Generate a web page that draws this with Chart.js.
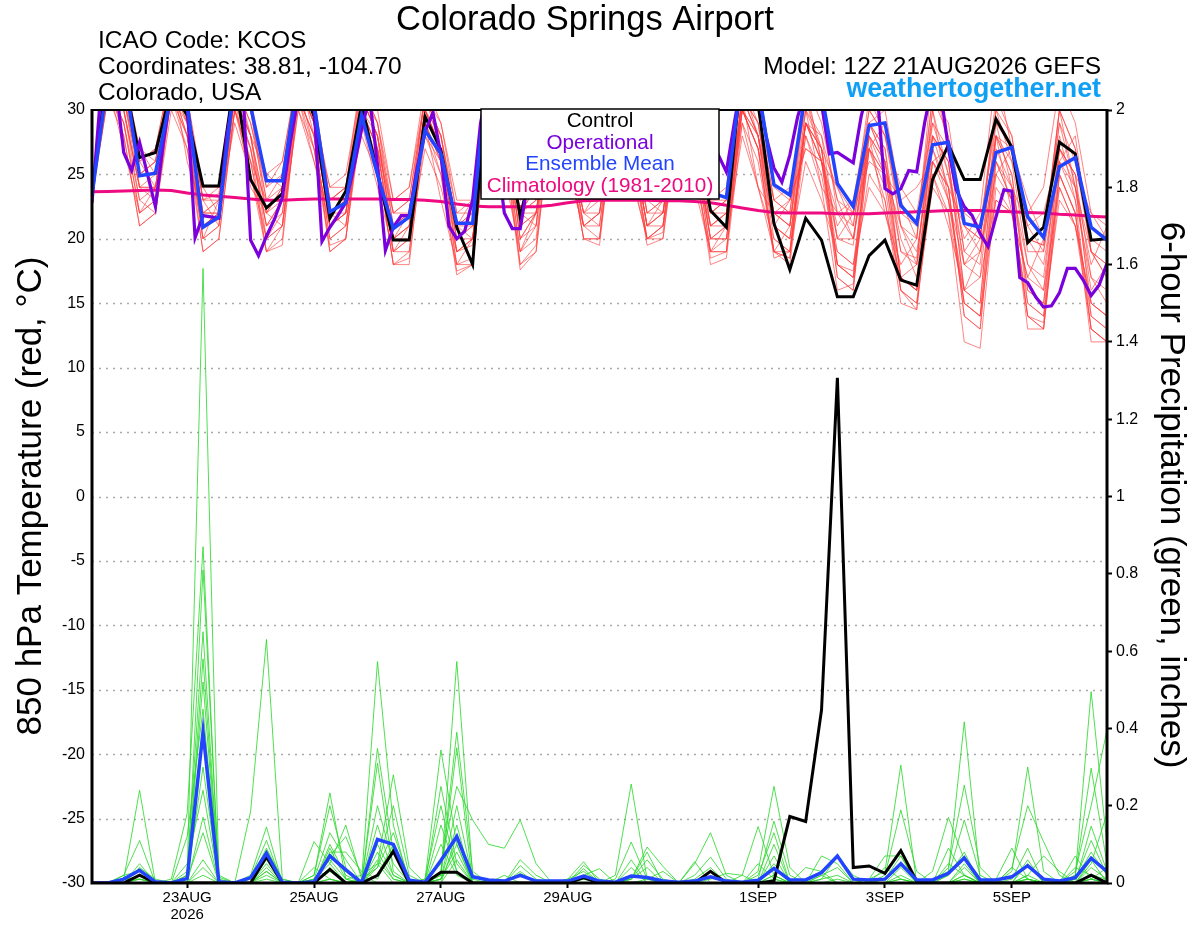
<!DOCTYPE html>
<html>
<head>
<meta charset="utf-8">
<title>Colorado Springs Airport - GEFS</title>
<script src="https://cdn.jsdelivr.net/npm/chart.js@4/dist/chart.umd.min.js"></script>
<style>
  html, body { margin: 0; padding: 0; background: #fff; }
  canvas { display: block; }
</style>
</head>
<body>
<canvas id="gefs" width="1200" height="927"></canvas>
<script>
// forecast hours from 12Z 21AUG2026, members every 6h, operational every 3h
const tickHours  = [36, 84, 132, 180, 252, 300, 348];
const tickLabels = ['23AUG', '25AUG', '27AUG', '29AUG', '1SEP', '3SEP', '5SEP'];
const tickYear   = '2026';

// 850 hPa temperature (C)
const tempControl = [
  23.6, 33.2, 32.7, 26.3, 26.7, 31.6, 29.6, 24.1,
  24.1, 32.5, 24.6, 22.4, 23.5, 32.8, 29.5, 21.6,
  23.7, 30.4, 25.1, 19.9, 19.9, 29.5, 26.9, 20.9,
  18.0, 34.0, 29.0, 21.7, 27.0, 33.0, 31.0, 25.5,
  25.0, 33.0, 30.0, 25.0, 25.5, 33.0, 29.0, 22.2,
  20.9, 34.0, 30.5, 21.2, 17.6, 21.6, 19.9, 15.5,
  15.5, 18.7, 19.9, 16.8, 16.4, 24.6, 27.3, 24.6,
  24.6, 29.3, 27.1, 19.7, 20.9, 27.5, 26.6, 19.9,
  20.0];

const tempMean = [
  23.4, 32.5, 33.0, 24.9, 25.1, 31.3, 30.5, 20.9,
  21.7, 32.5, 30.3, 24.5, 24.5, 32.5, 30.5, 22.1,
  22.8, 29.6, 25.0, 20.8, 21.7, 28.4, 26.6, 21.2,
  21.2, 34.0, 29.0, 24.5, 25.0, 31.5, 30.0, 25.0,
  25.5, 31.5, 29.5, 25.0, 25.0, 31.0, 29.0, 23.6,
  23.2, 33.0, 31.8, 24.2, 23.4, 31.5, 31.3, 24.3,
  22.5, 28.8, 29.0, 22.6, 21.2, 27.3, 27.5, 21.2,
  20.9, 26.7, 27.1, 21.7, 20.1, 25.6, 26.3, 20.9,
  19.9];

const tempClim = [
  23.65, 23.68, 23.72, 23.76, 23.8, 23.75, 23.55, 23.4,
  23.3, 23.2, 23.1, 23.0, 23.0, 23.05, 23.1, 23.1,
  23.1, 23.1, 23.1, 23.05, 23.05, 23.0, 22.9, 22.7,
  22.55, 22.5, 22.5, 22.5, 22.5, 22.6, 22.8, 22.95,
  23.0, 23.0, 23.0, 23.0, 22.95, 22.95, 22.9, 22.8,
  22.6, 22.4, 22.2, 22.05, 22.0, 22.0, 22.0, 21.95,
  21.95, 21.95, 22.0, 22.05, 22.1, 22.15, 22.2, 22.2,
  22.2, 22.15, 22.1, 22.05, 22.0, 21.9, 21.85, 21.75,
  21.7];

// operational run, 3-hourly
const tempOper = [
  22.8, 30.5, 33.5, 32.0, 26.7, 25.3, 27.5, 25.0,
  22.5, 27.5, 31.5, 33.0, 30.5, 20.1, 21.8, 21.7,
  21.6, 28.0, 31.5, 32.0, 19.9, 18.7, 20.2, 21.5,
  23.2, 27.5, 31.0, 32.5, 30.3, 19.8, 20.9, 21.8,
  22.8, 25.5, 28.5, 31.0, 25.8, 19.1, 20.9, 21.8,
  21.8, 25.5, 28.3, 29.8, 26.5, 21.0, 20.0, 20.6,
  23.0, 29.0, 32.0, 27.0, 22.0, 20.8, 20.8, 24.5,
  30.0, 33.0, 33.0, 31.0, 28.0, 26.0, 25.0, 25.0,
  27.0, 31.0, 33.0, 33.0, 31.0, 28.0, 26.0, 25.0,
  25.5, 28.0, 31.0, 33.0, 32.0, 30.0, 28.0, 26.5,
  25.2, 29.0, 32.5, 33.0, 31.5, 28.0, 25.5, 24.4,
  26.5, 29.5, 31.5, 32.5, 30.5, 26.6, 26.7, 26.3,
  25.9, 29.5, 32.0, 31.5, 23.9, 23.5, 23.9, 25.3,
  25.2, 29.0, 32.0, 31.5, 27.0, 23.8, 22.5, 21.8,
  20.4, 19.4, 21.7, 23.8, 23.7, 17.0, 16.6, 15.5,
  14.7, 14.8, 15.8, 17.7, 17.7, 16.8, 15.6, 16.4,
  18.1];

// ensemble members, temperature
const tempMembers = [
  [23.4, 33,31,25,26, 32,29,22,23, 31,27,21,23, 32,29,21,22, 30,27,19,20, 29,26,19,19.5, 31,29,20,22, 31,28,22,23,
         31,28,21,22, 31,27,20,21, 30,28,21,20, 29,26,19,18, 27,25,17,16, 26,23,15,14, 27,24,16,15, 25,22,14,13],
  [23.6, 34,32,26,27, 33,31,23,23.5, 32,29,24,25, 33,31,23,24, 31,28,22,23, 31,28,21,22, 33,31,22,24, 32,30,24,24.5,
         33,30,23,24, 32,30,22,23, 32,30,23,22, 31,27,24,21, 29,30,23,20, 33,27,19,21, 30,26,22,24, 32,29,22,21],
  [23.2, 32,30,23,24, 31,28,20,21, 30,26,19,20, 31,28,20,21, 29,26,18,18.5, 28,25,17.2,18, 30,28,18,19.5, 30,27,20,20,
         30,27,20,20.5, 30,26,18,18.5, 29,26,19,18, 28,24,16,16.5, 27,23,15,14.5, 25,22,12,11.5, 24,22,14,13, 24,21,13,12],
  [23.7, 33,32,27,26, 33,30,23,24, 32,30,25,26, 33,30,24,25, 32,29,23,24, 31,29,23,23, 32,30,23,24, 32,29,24,25,
         32,29,24,25, 32,29,23,24, 33,30,24,23, 32,29,23,22, 31,28,22,21, 31,29,21,20, 30,28,20,19.5, 30,27,19,18],
  [23.5, 31,29,22,23, 32,28,21,21.5, 31,26,20,21, 30,27,19,20, 30,27,19,19, 29,26,18,18.5, 31,28,19,20, 31,28,21,21,
         31,28,20,21, 31,27,19,19, 31,28,20,19, 30,27,18,17, 28,25,16,15, 27,24,14,13, 26,23,14,13.5, 26,23,13,12],
  [23.5, 33,30,24,25, 32,30,22,22, 31,28,22,23, 32,29,21,22, 31,28,20,21, 30,27,20,21, 32,30,21,22, 31,29,23,23,
         32,29,22,23, 31,28,21,22, 31,29,22,21, 30,28,20,19.5, 29,27,19,18.5, 28,26,18,17, 28,26,18,17, 27,25,17,16],
  [23.3, 32,28,21,22, 31,27,19,20, 30,25,19,19.5, 31,27,19.5,20, 30,26,18,19, 29,26,18,18, 30,27,18,19, 30,27,20,19.5,
         30,27,19.5,20, 29,26,18.5,19, 30,27,19,18.5, 29,26,18,17.5, 29,27,17,16, 28,26,16,15, 28,25,16,15, 27,24,15,14],
  [23.6, 34,33,25,26, 33,31,21,22, 32,30,22,24, 33,30,22,23, 32,29,21,22, 31,28,21,21, 32,31,23,24, 32,30,23,24,
         32,30,22,23, 33,30,22,22, 32,29,21,20, 28,25,18,17, 25,23,16,15, 24,22,15,14, 23,22,15,14, 23,21,15,14],
  [23.4, 33,31,24,24, 32,30,21,22, 31,28,20,22, 32,29,22,23, 30,27,20,21, 30,27,19,20, 31,28,19,21, 31,28,22,22,
         31,28,21,22, 30,27,20,21, 31,28,21,20, 29,28,23,20, 27,29,21,18, 30,25,18,20, 28,27,21,19, 26,28,19,17],
  [23.8, 33,32,26,27, 33,31,24,24, 33,31,24,26, 33,31,23,24, 32,30,23,24, 32,29,22,23, 32,30,22,24, 31,29,23,24,
         31,29,23,24, 31,29,22,23, 30,28,22,21, 29,27,20,20, 28,26,19,18, 29,27,19,18, 29,27,19,19, 29,26,19,18],
  [23.3, 32,29,22,23, 31,29,20,21, 31,27,21,22, 31,28,20,21, 30,27,19,20, 30,27,20,20, 31,29,20,21, 31,28,21,22,
         31,28,21,21, 31,28,20,20, 31,28,19,18.5, 29,27,18,17, 28,26,17,16, 26,24,14,13, 25,23,13,13, 25,22,12,12],
  [23.5, 33,31,25,25, 32,30,22,23, 32,29,23,24, 32,30,22,23, 31,28,21,22, 30,28,21,22, 32,29,22,23, 31,29,23,23,
         31,28,22,22, 31,28,21,22, 31,29,22,21, 32,26,21,23, 30,28,24,22, 29,25,20,22, 33,27,23,20, 30,24,18,21],
  [23.1, 31,28,21,22, 31,28,19,20, 30,27,19,21, 31,28,19,20, 29,26,18,18, 29,25,17.5,18, 30,27,17.6,19, 30,27,20,20,
         30,27,20,20, 30,27,19,19, 30,27,19,19, 29,26,17,16, 27,24,16,14.5, 26,24,15,14, 26,23,14,13, 25,22,13,12],
  [23.6, 34,32,25,26, 33,31,23,23, 32,30,23,25, 33,30,23,24, 31,29,22,23, 31,28,22,22, 33,31,22,23, 32,30,23,24,
         32,30,23,24, 32,30,23,23, 32,30,23,22, 32,30,22,21, 30,28,21,20, 31,28,21,20, 31,28,20,19.5, 30,27,20,19],
  [23.4, 32,30,24,24, 32,29,21,22, 31,28,21,23, 32,29,21,22, 31,28,20,21, 30,27,19,20, 31,29,20,22, 31,28,21,22,
         31,28,21,22, 30,28,20,20, 30,27,18.5,19, 29,27,17,16, 29,26,17,16, 28,26,16,15, 28,25,15,14, 27,25,14,13],
  [23.5, 32,29,23,22, 30,27,21,22, 29,25,20,21, 30,26,21,22, 28,25,20,20, 27,24,19,20, 29,26,21,22, 29,26,21,22,
         29,25,20,21, 28,25,19,20, 28,24,20,19, 26,23,19,18, 24,22,17,18, 25,21,16,17, 23,22,17,16, 24,21,15,14],
  [23.7, 33,33,27,25, 34,29,24,22, 33,28,25,24, 32,29,24,24, 33,27,22,22, 30,27,21,23, 33,29,24,23, 33,28,24,23,
         32,29,23,24, 33,28,22,23, 32,28,23,24, 30,24,22,23, 27,25,23,24, 26,27,22,21, 29,24,21,22, 27,25,22,20],
  [23.4, 31,30,24,23, 33,26,22,22, 30,26,23,23, 31,26,22,21, 30,25,21,22, 28,26,20,21, 31,26,22,22, 30,27,22,21,
         30,26,23,22, 30,26,21,21, 29,24,22,23, 27,26,24,22, 26,25,21,19, 27,23,18,19, 25,27,20,18, 26,24,19,17],
  [23.2, 32,27,22,24, 32,28,20,23, 31,24,22,21, 32,27,21,23, 29,24,19,21, 29,23,18,20, 30,25,19,22, 30,25,21,20,
         31,25,20,21, 30,24,19,21, 31,24,19,21, 31,26,20,22, 28,22,18,20, 30,23,16,19, 28,22,17,20, 29,24,16,18],
  [23.6, 34,31,26,24, 32,30,23,21, 32,28,22,24, 33,28,22,22, 30,28,20,22, 31,27,21,20, 32,28,22,21, 32,28,22,24,
         32,28,21,23, 31,29,21,22, 30,27,21,23, 27,26,22,20, 29,26,20,17, 28,24,21,19, 26,24,18,16, 28,23,17,15]
];

// 6-hour precipitation (inches)
const precipControl = [
  0, 0, 0, 0.02, 0, 0, 0, 0,
  0, 0, 0, 0.068, 0, 0, 0, 0.035,
  0, 0, 0.02, 0.082, 0, 0, 0.028, 0.028,
  0, 0, 0, 0, 0, 0, 0, 0.014,
  0, 0, 0, 0, 0, 0, 0, 0.03,
  0, 0, 0, 0.005, 0.172, 0.159, 0.448, 1.307,
  0.04, 0.044, 0.025, 0.084, 0.005, 0, 0, 0,
  0, 0, 0, 0, 0, 0, 0, 0.02,
  0];

const precipMean = [
  0, 0, 0.01, 0.033, 0.003, 0, 0.012, 0.391,
  0.003, 0, 0.014, 0.077, 0.002, 0, 0.003, 0.07,
  0.034, 0.001, 0.113, 0.10, 0.007, 0.002, 0.058, 0.12,
  0.016, 0.008, 0.005, 0.02, 0.005, 0.005, 0.005, 0.018,
  0.005, 0.002, 0.018, 0.014, 0.005, 0.002, 0.005, 0.016,
  0.005, 0.002, 0.007, 0.038, 0.008, 0.008, 0.027, 0.07,
  0.01, 0.008, 0.01, 0.05, 0.008, 0.008, 0.025, 0.065,
  0.008, 0.008, 0.016, 0.045, 0.01, 0.005, 0.014, 0.064,
  0.03];

const precipMembers = [
  [0,0,0.01,0.24,0,0,0.01,0.13, 0,0,0.02,0.145,0,0,0.01,0.06, 0.01,0,0.2,0.05,0,0,0.02,0.573, 0.02,0,0,0,0,0,0,0,
   0,0,0.01,0.06,0.01,0,0,0, 0,0,0.01,0.16,0.02,0,0,0, 0,0.01,0.03,0.305,0,0,0,0, 0,0.01,0.09,0.01,0,0,0,0.05, 0.18],
  [0,0,0.02,0.11,0,0,0.02,1.59, 0.02,0,0,0.06,0,0,0.01,0.13, 0.06,0,0.08,0.01,0,0.01,0.344,0.1, 0,0,0,0.06,0.02,0,0,0,
   0,0.01,0.106,0.01,0,0,0,0, 0,0,0,0.04,0,0.04,0.03,0, 0,0,0,0.01,0,0,0.02,0.163, 0.02,0,0,0.01,0,0,0.01,0.11, 0.02],
  [0,0,0,0.05,0,0.01,0.18,0.87, 0,0,0.01,0.09,0.01,0,0,0.04, 0,0.01,0.573,0.15,0,0,0.01,0.08, 0,0,0,0,0,0,0.01,0.055,
   0,0,0.01,0.04,0,0,0,0, 0,0,0.02,0.13,0,0,0,0.01, 0,0.01,0.07,0.07,0,0,0,0.02, 0,0,0.01,0.09,0,0,0.07,0.01, 0],
  [0,0,0,0.04,0.01,0,0,0.81, 0.015,0,0,0.04,0,0,0.02,0.233, 0.01,0.02,0.05,0,0,0,0.03,0.39, 0.03,0,0,0,0,0,0,0.01,
   0,0,0.04,0,0,0,0.01,0.04, 0,0,0,0,0,0,0.01,0.02, 0,0,0.01,0.07,0,0,0,0.01, 0,0,0,0.05,0,0,0.03,0.2, 0.396],
  [0,0,0,0.035,0,0,0.03,0.65, 0,0,0,0.02,0,0,0,0.07, 0.12,0.02,0,0,0,0.01,0.2,0.03, 0,0,0,0,0,0,0,0.046,
   0.01,0,0,0,0,0,0,0, 0,0,0.03,0.25,0.04,0,0,0, 0,0,0,0.02,0,0,0.05,0.02, 0,0,0,0.02,0,0,0.02,0.297, 0.05],
  [0,0,0,0.02,0,0,0,0.58, 0,0,0.185,0.63,0.01,0,0,0.01, 0,0,0.1,0.02,0,0,0.05,0.25, 0.163,0.1,0.09,0.163,0.05,0,0,0,
   0,0,0,0.01,0.03,0,0,0, 0,0,0.05,0.01,0,0,0,0, 0,0,0,0,0,0.01,0.03,0.417, 0.01,0,0,0,0,0,0.01,0.08, 0.02],
  [0,0,0.02,0.03,0,0,0.01,0.52, 0,0,0,0.08,0,0,0.01,0.05, 0.15,0.01,0.04,0.13,0.01,0,0.1,0.02, 0,0,0,0,0,0,0.01,0.03,
   0,0,0,0,0,0,0.02,0.067, 0.01,0,0,0.01,0,0,0,0, 0,0,0.01,0.05,0,0,0,0.01, 0,0,0.04,0.2,0.107,0.02,0,0.01, 0],
  [0,0,0.01,0.01,0,0,0.12,0.45, 0,0,0,0.03,0,0,0,0.10, 0.02,0,0.348,0.08,0,0,0.01,0.2, 0.01,0,0,0,0,0,0,0,
   0,0,0.01,0.08,0,0,0,0, 0,0,0,0.1,0,0,0.02,0, 0,0,0,0.01,0,0.03,0.17,0.06, 0,0,0,0.01,0,0,0.04,0.02, 0],
  [0,0,0,0.01,0,0,0.02,0.40, 0.01,0,0.015,0.11,0,0,0.107,0.05, 0,0,0.05,0.28,0.04,0,0.01,0.15, 0,0,0,0.045,0.01,0,0,0,
   0,0.02,0.256,0.01,0,0,0,0, 0,0,0,0.02,0,0,0.07,0.05, 0,0,0,0,0,0,0.09,0.02, 0,0,0.04,0.01,0,0,0,0.147, 0.03],
  [0,0,0,0,0,0,0.01,0.30, 0,0,0,0.05,0,0,0.02,0.2, 0.04,0,0.02,0.1,0,0,0.25,0.05, 0,0,0.02,0,0,0,0,0.01,
   0,0,0,0,0,0,0.05,0.13, 0.02,0,0,0.02,0,0,0,0, 0,0,0.02,0.189,0.03,0,0,0.02, 0,0,0,0.06,0,0,0,0.02, 0.01],
  [0,0,0,0.01,0,0,0.05,0.24, 0,0,0,0.01,0,0,0,0.09, 0.01,0,0.31,0.03,0,0,0.02,0.35, 0,0,0,0,0,0,0,0.037,
   0,0,0,0,0,0,0,0.01, 0.025,0.02,0,0,0,0,0.02,0.04, 0,0,0,0,0,0,0.02,0.08, 0,0,0,0.01,0,0,0.02,0.495, 0.1],
  [0,0,0,0,0,0,0,0.17, 0,0,0.01,0.085,0,0,0.04,0.01, 0,0,0.06,0.01,0,0,0,0.12, 0,0,0,0.03,0,0,0,0,
   0,0,0.01,0.093,0.043,0,0,0, 0,0,0,0.07,0,0,0,0, 0,0,0,0,0,0,0.04,0.253, 0.04,0,0,0,0,0,0,0.06, 0],
  [0,0,0,0,0,0,0,0.06, 0,0,0,0,0,0,0,0.08, 0.08,0.03,0.01,0.09,0,0,0.15,0.03, 0,0,0,0,0,0,0,0.02,
   0.037,0,0,0,0,0,0,0.03, 0,0,0,0,0,0,0.01,0.07, 0.02,0,0,0,0,0,0,0.04, 0,0,0,0.02,0.07,0.03,0,0.01, 0.04],
  [0,0,0,0,0,0,0,0.04, 0,0,0,0.07,0,0,0,0.01, 0,0,0.15,0.02,0,0,0.01,0.1, 0,0,0,0.025,0,0,0,0,
   0,0,0.06,0,0,0,0,0, 0,0.02,0.146,0.02,0,0,0,0, 0,0,0,0.04,0,0,0,0, 0,0,0.03,0.3,0.03,0,0,0.01, 0],
  [0,0,0,0,0,0,0,0.02, 0,0,0,0.03,0,0,0,0.03, 0,0,0.04,0.2,0.02,0,0,0.06, 0,0,0,0,0,0,0,0,
   0,0,0,0,0,0,0.055,0, 0,0,0,0.05,0,0,0,0, 0,0,0.04,0.01,0,0,0,0.05, 0,0,0,0,0,0,0,0.04, 0.01]
];

const FONT = '"Liberation Sans", Arial, Helvetica, sans-serif';
Chart.defaults.font.family = FONT;
Chart.defaults.color = '#000';

const every6 = (vals) => vals.map((v, i) => ({ x: i * 6, y: v }));
const every3 = (vals) => vals.map((v, i) => ({ x: i * 3, y: v }));

const datasets = [];

tempMembers.forEach((m) => {
  datasets.push({
    data: every6(m), yAxisID: 'yT', order: 7,
    borderColor: 'rgba(255,60,60,0.75)', borderWidth: 0.85
  });
});
precipMembers.forEach((m) => {
  datasets.push({
    data: every6(m), yAxisID: 'yP', order: 6,
    borderColor: 'rgba(40,215,40,0.9)', borderWidth: 0.9
  });
});
datasets.push({ data: every6(tempClim), yAxisID: 'yT', order: 5, borderColor: '#ee0a80', borderWidth: 3 });
datasets.push({ data: every6(tempControl), yAxisID: 'yT', order: 4, borderColor: '#000', borderWidth: 3 });
datasets.push({ data: every6(precipControl), yAxisID: 'yP', order: 4, borderColor: '#000', borderWidth: 3 });
datasets.push({ data: every3(tempOper), yAxisID: 'yT', order: 3, borderColor: '#7a00dc', borderWidth: 3.2 });
datasets.push({ data: every6(tempMean), yAxisID: 'yT', order: 2, borderColor: '#2244ff', borderWidth: 3.5 });
datasets.push({ data: every6(precipMean), yAxisID: 'yP', order: 2, borderColor: '#2244ff', borderWidth: 3.5 });

// grid, frame, legend box and all the text round the plot
const decor = {
  id: 'decor',
  beforeDatasetsDraw(chart) {
    const { ctx, chartArea: a } = chart;
    const yT = chart.scales.yT;
    ctx.save();
    ctx.strokeStyle = '#a8a8a8';
    ctx.lineWidth = 1.3;
    ctx.setLineDash([2, 5]);
    yT.ticks.forEach((t) => {
      if (t.value <= yT.min || t.value >= yT.max) return;
      const y = Math.round(yT.getPixelForValue(t.value)) + 0.5;
      ctx.beginPath();
      ctx.moveTo(a.left, y);
      ctx.lineTo(a.right, y);
      ctx.stroke();
    });
    ctx.restore();
  },
  afterDatasetsDraw(chart) {
    const { ctx, chartArea: a } = chart;
    ctx.save();
    ctx.strokeStyle = '#000';
    ctx.lineWidth = 2;
    ctx.beginPath();
    ctx.moveTo(a.left, a.top);
    ctx.lineTo(a.right, a.top);
    ctx.stroke();
    ctx.lineWidth = 3;
    ctx.beginPath();
    ctx.moveTo(a.left, a.top - 1);
    ctx.lineTo(a.left, a.bottom);
    ctx.lineTo(a.right, a.bottom);
    ctx.lineTo(a.right, a.top - 1);
    ctx.stroke();

    // legend box
    const bx = 481, by = 109, bw = 238, bh = 90;
    ctx.fillStyle = '#fff';
    ctx.fillRect(bx, by, bw, bh);
    ctx.lineWidth = 1.5;
    ctx.strokeRect(bx, by, bw, bh);
    ctx.font = '20.7px ' + FONT;
    ctx.textAlign = 'center';
    ctx.textBaseline = 'alphabetic';
    const items = [
      ['Control', '#000'],
      ['Operational', '#7a00dc'],
      ['Ensemble Mean', '#2244ff'],
      ['Climatology (1981-2010)', '#ee0a80']
    ];
    items.forEach((it, k) => {
      ctx.fillStyle = it[1];
      ctx.fillText(it[0], bx + bw / 2, 127 + k * 21.5);
    });
    ctx.restore();
  },
  afterDraw(chart) {
    const { ctx } = chart;
    ctx.save();
    ctx.fillStyle = '#000';
    ctx.textBaseline = 'alphabetic';
    ctx.textAlign = 'center';
    ctx.font = '34.5px ' + FONT;
    ctx.fillText('Colorado Springs Airport', 585, 30);

    ctx.font = '24.5px ' + FONT;
    ctx.textAlign = 'left';
    ctx.fillText('ICAO Code: KCOS', 98, 48);
    ctx.fillText('Coordinates: 38.81, -104.70', 98, 74);
    ctx.fillText('Colorado, USA', 98, 100);
    ctx.textAlign = 'right';
    ctx.fillText('Model: 12Z 21AUG2026 GEFS', 1101, 74);
    ctx.font = 'bold 26.8px ' + FONT;
    ctx.fillStyle = '#0fa0f5';
    ctx.fillText('weathertogether.net', 1101, 97);

    ctx.fillStyle = '#000';
    ctx.font = '35px ' + FONT;
    ctx.textAlign = 'center';
    ctx.textBaseline = 'middle';
    ctx.save();
    ctx.translate(31, 496);
    ctx.rotate(-Math.PI / 2);
    ctx.fillText('850 hPa Temperature (red, \u00B0C)', 0, 0);
    ctx.restore();
    ctx.save();
    ctx.translate(1171, 495);
    ctx.rotate(Math.PI / 2);
    ctx.fillText('6-hour Precipitation (green, inches)', 0, 0);
    ctx.restore();
    ctx.restore();
  }
};

new Chart(document.getElementById('gefs'), {
  type: 'line',
  data: { datasets: datasets },
  options: {
    responsive: false,
    animation: false,
    devicePixelRatio: 1,
    layout: { padding: { top: 110, left: 0, right: 0, bottom: 0 } },
    elements: { point: { radius: 0 }, line: { tension: 0 } },
    plugins: { legend: { display: false }, tooltip: { enabled: false } },
    scales: {
      x: {
        type: 'linear', min: 0, max: 384,
        afterBuildTicks: (s) => { s.ticks = tickHours.map((v) => ({ value: v })); },
        afterFit: (s) => { s.height = 44; },
        ticks: {
          autoSkip: false, maxRotation: 0, padding: 2,
          font: { size: 15, lineHeight: 1.1 },
          callback: (v) => {
            const k = tickHours.indexOf(v);
            return k === 0 ? [tickLabels[0], tickYear] : tickLabels[k];
          }
        },
        grid: { drawOnChartArea: false, drawTicks: true, tickLength: 5, tickWidth: 2, tickColor: '#000' },
        border: { display: false }
      },
      yT: {
        type: 'linear', position: 'left', min: -30, max: 30,
        afterFit: (s) => { s.width = 92; },
        ticks: { stepSize: 5, padding: 7, font: { size: 16 }, callback: (v) => String(v) },
        grid: { drawOnChartArea: false, drawTicks: false },
        border: { display: false }
      },
      yP: {
        type: 'linear', position: 'right', min: 0, max: 2,
        afterFit: (s) => { s.width = 93; },
        ticks: { stepSize: 0.2, padding: 4, font: { size: 16 }, callback: (v) => String(Math.round(v * 10) / 10) },
        grid: { drawOnChartArea: false, drawTicks: true, tickLength: 5, tickWidth: 2, tickColor: '#000' },
        border: { display: false }
      }
    }
  },
  plugins: [decor]
});
</script>
</body>
</html>
